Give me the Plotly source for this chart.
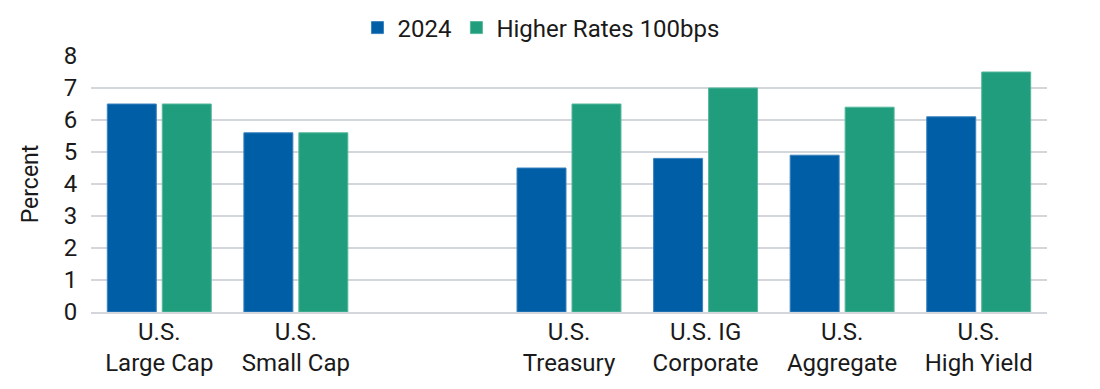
import plotly.graph_objects as go

categories = ["U.S.<br>Large Cap", "U.S.<br>Small Cap", "", "U.S.<br>Treasury",
              "U.S. IG<br>Corporate", "U.S.<br>Aggregate", "U.S.<br>High Yield"]
series_2024 = [6.5, 5.6, None, 4.5, 4.8, 4.9, 6.1]
series_higher = [6.5, 5.6, None, 6.5, 7.0, 6.4, 7.5]
y_ticks = [0, 1, 2, 3, 4, 5, 6, 7, 8]

BLUE = "#005EA6"
GREEN = "#1F9D7C"
FONT = "Roboto"

positions = list(range(len(categories)))

fig = go.Figure()
fig.add_trace(go.Bar(x=positions, y=series_2024, name="2024",
                     marker=dict(color=BLUE, line=dict(color="#3A82BE", width=1))))
fig.add_trace(go.Bar(x=positions, y=series_higher, name="Higher Rates 100bps",
                     marker=dict(color=GREEN, line=dict(color="#55B89C", width=1))))

fig.update_layout(
    width=1100, height=389,
    margin=dict(l=83, r=61, t=48, b=85, autoexpand=False),
    paper_bgcolor="white", plot_bgcolor="white",
    font=dict(family=FONT, size=24, color="#1a1a1a"),
    barmode="group", bargap=0.195, bargroupgap=0.109,
    showlegend=True,
    legend=dict(orientation="h", xref="container", x=0.4845, xanchor="center",
                yref="container", y=0.9486, yanchor="middle",
                font=dict(family=FONT, size=24, color="#1a1a1a"),
                itemclick=False),
    xaxis=dict(tickmode="array", tickvals=positions, ticktext=categories,
               range=[-0.5, len(categories) - 0.5], showgrid=False,
               showline=True, linecolor="#D3D6DB", linewidth=2,
               ticks="", tickfont=dict(size=24), ticklabelstandoff=-3),
    yaxis=dict(range=[0, 8], tickvals=y_ticks, showgrid=True,
               gridcolor="#D3D6DB", gridwidth=1.5, zeroline=False,
               showline=False, ticks="outside", ticklen=8, tickcolor="white",
               tickfont=dict(size=24),
               title=dict(text="Percent", font=dict(size=23), standoff=18)),
)

fig.write_html("out.html")
